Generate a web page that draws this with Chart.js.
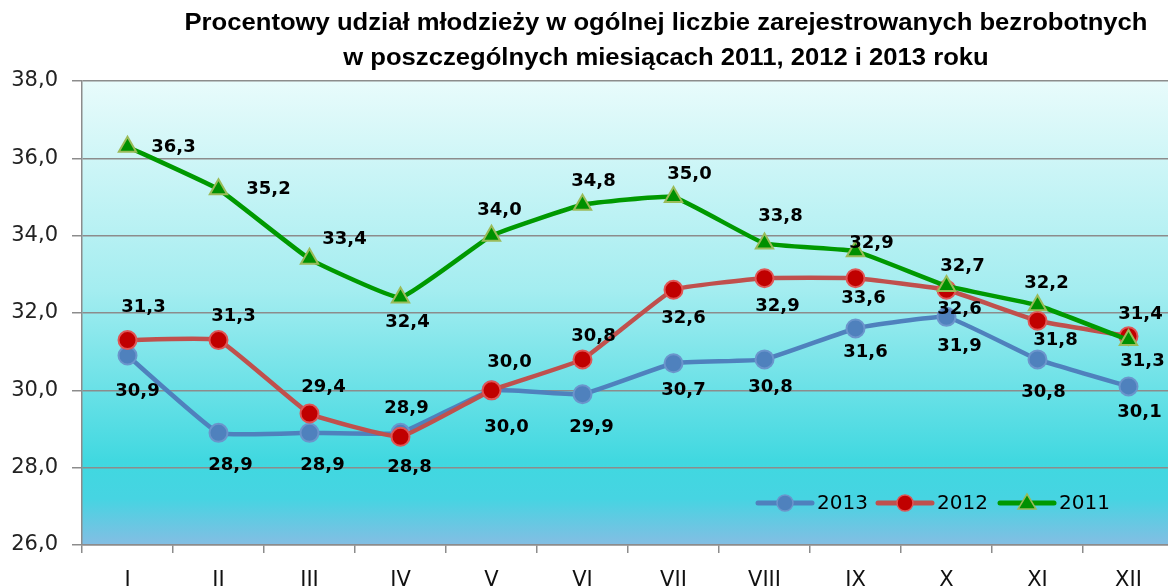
<!DOCTYPE html>
<html>
<head>
<meta charset="utf-8">
<script src="https://cdn.jsdelivr.net/npm/chart.js@4"></script>
<style>
  html, body { margin: 0; padding: 0; background: #fff; overflow: hidden; }
  #wrap { width: 1168px; height: 587px; overflow: hidden; }
</style>
</head>
<body>
<div id="wrap"><canvas id="chart" width="1180" height="587"></canvas></div>
<script>
var months = ["I", "II", "III", "IV", "V", "VI", "VII", "VIII", "IX", "X", "XI", "XII"];
var values2013 = [30.9, 28.9, 28.9, 28.9, 30.0, 29.9, 30.7, 30.8, 31.6, 31.9, 30.8, 30.1];
var values2012 = [31.3, 31.3, 29.4, 28.8, 30.0, 30.8, 32.6, 32.9, 32.9, 32.6, 31.8, 31.4];
var values2011 = [36.3, 35.2, 33.4, 32.4, 34.0, 34.8, 35.0, 33.8, 33.6, 32.7, 32.2, 31.3];
var seriesNames = ["2013", "2012", "2011"];
var yTicks = [26, 28, 30, 32, 34, 36, 38];
var titleLines = [
  "Procentowy udział młodzieży w ogólnej liczbie zarejestrowanych bezrobotnych",
  "w poszczególnych miesiącach 2011, 2012 i 2013 roku"
];

// where each value label sits relative to its point [dx, dy]
var labelOffsets = [
  [[10, 36], [12, 32], [13, 32], [6, -25], [15, 37], [9, 33], [10, 27], [6, 28], [10, 24], [13, 29], [6, 33], [11, 26]],
  [[16, -33], [15, -24], [14, -26], [9, 31], [18, -28], [11, -23], [10, 29], [13, 28], [16, -35], [13, 20], [18, 20], [12, -22]],
  [[46, 1], [50, 0], [35, -20], [7, 25], [8, -25], [11, -23], [16, -23], [16, -27], [8, 47], [16, -20], [9, -22], [14, 21]]
];

var fmt = function (v) { return v.toFixed(1).replace(".", ","); };
var mainFont = "'DejaVu Sans', Verdana, sans-serif";

var styles = [
  { line: "#4f81bd", fill: "#4f81bd", border: "#6b95cc", shape: "circle", r: 9 },
  { line: "#c0504d", fill: "#c00000", border: "#e05555", shape: "circle", r: 9 },
  { line: "#009900", fill: "#009000", border: "#9bbb59", shape: "triangle", r: 10 }
];

var plotBackground = {
  id: "plotBackground",
  beforeDraw: function (chart) {
    var c = chart.ctx, a = chart.chartArea;
    var g = c.createLinearGradient(0, a.top, 0, a.bottom);
    g.addColorStop(0, "#e8fbfb");
    g.addColorStop(0.45, "#a4edf0");
    g.addColorStop(0.82, "#40d8e0");
    g.addColorStop(0.9, "#46d4e2");
    g.addColorStop(1, "#84bde3");
    c.save();
    c.fillStyle = g;
    c.fillRect(a.left, a.top, a.right - a.left, a.bottom - a.top);
    c.restore();
  }
};

var extras = {
  id: "extras",
  afterDraw: function (chart) {
    var c = chart.ctx;
    c.save();
    // title, squeezed to the width of the original line
    c.fillStyle = "#000";
    c.textAlign = "center";
    c.textBaseline = "middle";
    c.font = "bold 23px 'Liberation Sans', Arial, sans-serif";
    var sx = 963 / c.measureText(titleLines[0]).width;
    c.save();
    c.translate(666, 0);
    c.scale(sx, 1);
    c.fillText(titleLines[0], 0, 24);
    c.fillText(titleLines[1], 0, 59);
    c.restore();

    // value labels
    c.font = "bold 18px " + mainFont;
    [values2013, values2012, values2011].forEach(function (vals, si) {
      var meta = chart.getDatasetMeta(si);
      vals.forEach(function (v, i) {
        var p = meta.data[i], o = labelOffsets[si][i];
        c.fillText(fmt(v), p.x + o[0], p.y + o[1]);
      });
    });

    // legend
    var lx = [758, 878, 1000], ly = 503;
    c.font = "20px " + mainFont;
    c.textAlign = "left";
    seriesNames.forEach(function (name, si) {
      var s = styles[si], x = lx[si];
      c.strokeStyle = s.line;
      c.lineWidth = 5;
      c.lineCap = "round";
      c.beginPath();
      c.moveTo(x, ly);
      c.lineTo(x + 54, ly);
      c.stroke();
      c.fillStyle = s.fill;
      c.strokeStyle = s.border;
      c.lineWidth = 1.5;
      c.beginPath();
      if (s.shape === "circle") {
        c.arc(x + 27, ly, 8, 0, Math.PI * 2);
      } else {
        c.moveTo(x + 27, ly - 9);
        c.lineTo(x + 36, ly + 6);
        c.lineTo(x + 18, ly + 6);
        c.closePath();
      }
      c.fill();
      c.stroke();
      c.fillStyle = "#000";
      c.fillText(name, x + 59, ly + 1);
    });
    c.restore();
  }
};

var datasets = [values2013, values2012, values2011].map(function (vals, i) {
  var s = styles[i];
  return {
    label: seriesNames[i],
    data: vals,
    borderColor: s.line,
    borderWidth: 4.5,
    backgroundColor: s.fill,
    pointBackgroundColor: s.fill,
    pointBorderColor: s.border,
    pointBorderWidth: 2,
    pointStyle: s.shape,
    pointRadius: s.r,
    pointHoverRadius: s.r,
    tension: 0.1,
    fill: false,
    clip: false,
    order: 3 - i
  };
});

new Chart(document.getElementById("chart").getContext("2d"), {
  type: "line",
  data: { labels: months, datasets: datasets },
  options: {
    responsive: false,
    animation: false,
    layout: { autoPadding: false, padding: { top: 81, right: 6, left: 0, bottom: 0 } },
    plugins: { legend: { display: false }, title: { display: false }, tooltip: { enabled: false } },
    scales: {
      x: {
        offset: true,
        grid: { display: true, drawOnChartArea: false, offset: true, color: "#8c8c8c", lineWidth: 1.5, tickLength: 8 },
        border: { color: "#8c8c8c", width: 1.5 },
        ticks: { color: "#111", font: { family: mainFont, size: 21 }, padding: 15, maxRotation: 0 },
        afterFit: function (s) { s.height = 42; s.paddingLeft = 0; s.paddingRight = 0; }
      },
      y: {
        min: 26,
        max: 38,
        afterBuildTicks: function (s) { s.ticks = yTicks.map(function (v) { return { value: v }; }); },
        grid: { color: "#8c8c8c", lineWidth: 1.5, tickLength: 10 },
        border: { color: "#8c8c8c", width: 1.5 },
        ticks: { color: "#222", font: { family: mainFont, size: 21 }, padding: 14, callback: function (v) { return fmt(v); } },
        afterFit: function (s) { s.width = 82; }
      }
    }
  },
  plugins: [plotBackground, extras]
});
</script>
</body>
</html>
